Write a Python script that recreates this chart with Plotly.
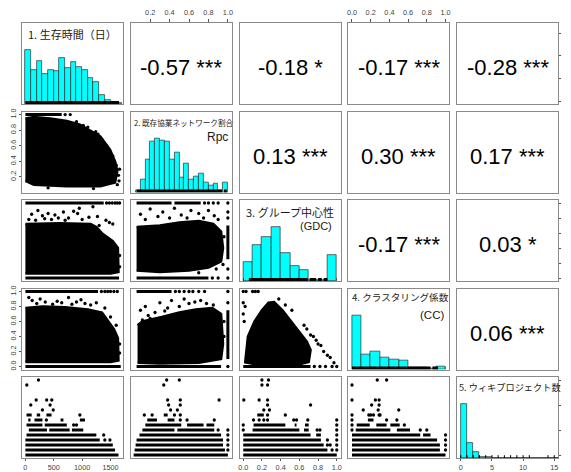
import plotly.graph_objects as go

# ------------------------------------------------------------------ data
titles_main = ["1. 生存時間（日）", "2. 既存協業ネットワーク割合", "3. グループ中心性",
               "4. クラスタリング係数", "5. ウィキプロジェクト数"]
titles_sub = ["", "Rpc", "(GDC)", "(CC)", ""]

axis_ranges = [[-60, 1720], [0.0, 1.04], [-0.04, 1.04], [-0.04, 1.04], [-0.6, 15.6]]

tick_surv = [0, 500, 1000, 1500]
tick_rpc = [0.2, 0.4, 0.6, 0.8, 1.0]
tick_unit = [0.0, 0.2, 0.4, 0.6, 0.8, 1.0]
tick_wiki = [0, 5, 10, 15]

# histograms: (first edge, bin width, relative heights)
hist_surv = (0, 100, [1.0, 0.63, 0.80, 0.56, 0.63, 0.61, 0.85, 0.67, 0.78, 0.69, 0.63, 0.48, 0.41, 0.17, 0.08, 0.03, 0.01])
hist_rpc = (0.05, 0.05, [0.04, 0.24, 0.61, 0.94, 1.0, 0.96, 0.95, 0.61, 0.74, 0.27, 0.53, 0.24, 0.29, 0.35, 0.19, 0.13, 0.16, 0.04, 0.19])
hist_gdc = (0.0, 0.1, [0.36, 0.67, 0.82, 1.0, 0.52, 0.28, 0.21, 0.01, 0.01, 0.48])
hist_cc = (0.0, 0.1, [1.0, 0.27, 0.33, 0.22, 0.18, 0.16, 0.04, 0.045, 0.015, 0.06])
hist_wiki = (0, 1, [1.0, 0.275, 0.11, 0.025, 0.01, 0.006, 0.004, 0.003, 0.002, 0.001, 0.002, 0.001, 0, 0, 0.001, 0.001])

rug_surv = [(0, 1650)]
rug_rpc = [(0.06, 0.94), (0.96, 0.99)]
rug_gdc = [(0.0, 0.005), (0.06, 0.69), (0.71, 0.78), (0.80, 0.84), (0.86, 0.90), (0.995, 1.0)]
rug_cc = [(0.0, 0.84), (0.86, 0.92), (0.995, 1.0)]
rug_wiki = [0, 1, 2, 3, 4, 5, 6, 7, 8, 9, 10, 11, 14, 15]

corr_pairs = [(0, 1), (0, 2), (0, 3), (0, 4), (1, 2), (1, 3), (1, 4), (2, 3), (2, 4), (3, 4)]
corr_r = [-0.57, -0.18, -0.17, -0.28, 0.13, 0.30, 0.17, -0.17, 0.03, 0.06]
corr_stars = ["***", "*", "***", "***", "***", "***", "***", "***", "*", "***"]

# ---- lower panels: dense clouds (outline), runs of dots (y, x0, x1), single points (x, y)
cloud21_x = [0, 150, 440, 730, 960, 1140, 1320, 1490, 1580, 1620, 1580, 1320, 730, 150, 0]
cloud21_y = [0.95, 0.97, 0.95, 0.92, 0.87, 0.80, 0.72, 0.55, 0.40, 0.28, 0.13, 0.08, 0.08, 0.10, 0.15]
runs21 = [(1.0, 0, 640)]
pts21 = [(700, 1.0), (790, 1.0), (1280, 0.75), (1350, 0.68), (1430, 0.60), (1540, 0.47), (1600, 0.35),
         (1640, 0.22), (1650, 0.15), (1240, 0.78), (1100, 0.84), (1020, 0.86), (1380, 0.62), (1500, 0.52),
         (900, 0.91), (1200, 0.05), (400, 0.06), (1620, 0.10), (1660, 0.30)]

cloud31_x = [0, 600, 1150, 1250, 1360, 1540, 1630, 1640, 1500, 0]
cloud31_y = [0.72, 0.73, 0.72, 0.68, 0.59, 0.49, 0.40, 0.08, 0.06, 0.06]
runs31 = [(1.0, 0, 1380), (0.0, 0, 1650)]
pts31 = [(1430, 1.0), (1480, 1.0), (1530, 1.0), (1580, 1.0), (1620, 1.0), (1660, 1.0),
         (110, 0.85), (220, 0.90), (300, 0.83), (400, 0.86), (520, 0.84), (580, 0.80), (670, 0.88),
         (760, 0.80), (850, 0.89), (920, 0.86), (950, 0.93), (1120, 0.81), (1190, 0.95), (1270, 0.82),
         (1420, 0.77), (1480, 0.74), (1540, 0.72), (60, 0.78), (180, 0.77), (340, 0.79), (460, 0.78),
         (700, 0.77), (1000, 0.78), (1300, 0.70), (1660, 0.30), (1660, 0.15)]

cloud41_x = [0, 300, 700, 1100, 1350, 1450, 1560, 1630, 1640, 1500, 0]
cloud41_y = [0.78, 0.80, 0.79, 0.76, 0.72, 0.62, 0.50, 0.38, 0.08, 0.06, 0.06]
runs41 = [(1.0, 0, 1280), (0.0, 0, 1680)]
pts41 = [(1340, 1.0), (1400, 1.0), (1450, 1.0), (1500, 1.0), (1560, 1.0), (1620, 1.0),
         (60, 0.92), (120, 0.88), (200, 0.84), (260, 0.90), (350, 0.86), (480, 0.83), (560, 0.87),
         (640, 0.85), (760, 0.92), (820, 0.83), (900, 0.86), (980, 0.89), (1050, 0.84), (1150, 0.82), (1250, 0.85),
         (1400, 0.78), (1500, 0.66), (1600, 0.55), (1660, 0.30), (1660, 0.18)]

cloud32_x = [0.06, 0.30, 0.50, 0.70, 0.85, 0.93, 0.95, 0.93, 0.80, 0.60, 0.30, 0.06]
cloud32_y = [0.68, 0.70, 0.74, 0.76, 0.72, 0.62, 0.40, 0.22, 0.14, 0.10, 0.08, 0.10]
runs32 = [(1.0, 0.06, 0.42), (1.0, 0.45, 0.72), (0.0, 0.06, 0.80)]
vruns32 = [(1.0, 0.25, 0.70)]
pts32 = [(0.76, 1.0), (0.80, 1.0), (0.85, 1.0), (0.90, 1.0), (0.84, 0.0), (0.90, 0.0),
         (1.0, 1.0), (1.0, 0.88), (1.0, 0.80), (1.0, 0.0), (1.0, 0.12),
         (0.10, 0.85), (0.15, 0.78), (0.20, 0.92), (0.28, 0.82), (0.33, 0.88), (0.40, 0.80), (0.45, 0.93),
         (0.52, 0.84), (0.58, 0.80), (0.62, 0.90), (0.70, 0.86), (0.75, 0.80), (0.80, 0.90), (0.86, 0.83), (0.90, 0.78),
         (0.96, 0.55), (0.95, 0.18), (0.88, 0.12), (0.70, 0.07)]

cloud42_x = [0.07, 0.12, 0.32, 0.50, 0.67, 0.84, 0.93, 0.95, 0.93, 0.70, 0.30, 0.07]
cloud42_y = [0.55, 0.60, 0.66, 0.72, 0.76, 0.78, 0.70, 0.30, 0.10, 0.05, 0.04, 0.05]
runs42 = [(1.0, 0.06, 0.42), (0.0, 0.06, 0.93)]
vruns42 = [(1.0, 0.10, 0.75)]
pts42 = [(0.46, 1.0), (0.50, 1.0), (0.55, 1.0), (0.60, 1.0), (0.64, 1.0), (0.70, 1.0), (0.76, 1.0), (1.0, 1.0),
         (1.0, 0.0), (1.0, 0.85),
         (0.10, 0.75), (0.15, 0.80), (0.18, 0.68), (0.25, 0.72), (0.30, 0.85), (0.38, 0.78), (0.42, 0.88),
         (0.50, 0.80), (0.55, 0.90), (0.60, 0.84), (0.66, 0.86), (0.72, 0.88), (0.78, 0.84), (0.85, 0.82),
         (0.12, 0.62), (0.20, 0.64), (0.35, 0.74), (0.96, 0.60), (0.96, 0.40)]

cloud43_x = [0.02, 0.05, 0.12, 0.20, 0.27, 0.33, 0.42, 0.50, 0.60, 0.68, 0.72, 0.70, 0.60, 0.10]
cloud43_y = [0.04, 0.40, 0.60, 0.75, 0.85, 0.86, 0.75, 0.62, 0.45, 0.33, 0.22, 0.06, 0.03, 0.02]
runs43 = [(0.0, 0.0, 0.72)]
pts43 = [(0.0, 1.0), (0.03, 1.0), (0.10, 1.0), (0.13, 1.0), (0.16, 1.0),
         (0.0, 0.85), (0.02, 0.80), (0.0, 0.70), (0.01, 0.60),
         (0.75, 0.40), (0.78, 0.35), (0.80, 0.30), (0.83, 0.28), (0.86, 0.20), (0.90, 0.15), (0.93, 0.12),
         (0.97, 0.05), (0.65, 0.55), (0.68, 0.50), (0.72, 0.42),
         (0.76, 0.0), (0.82, 0.0), (0.88, 0.0), (0.95, 0.0), (1.0, 0.0),
         (0.38, 0.90), (0.45, 0.82), (0.52, 0.75)]

# row 5: wiki project count (integer levels): runs (level, x0, x1) and dots (level, x)
runs51 = [(0, 0, 1640), (1, 0, 1580), (2, 0, 1540), (3, 0, 1310), (4, 20, 1250), (5, 60, 380), (5, 420, 780),
          (5, 820, 1020), (6, 20, 300), (6, 340, 730), (7, 50, 90), (7, 160, 300), (7, 620, 670), (7, 960, 1050),
          (8, 20, 110), (8, 200, 260), (8, 370, 460)]
dots51 = [(3, 1400), (3, 1490), (4, 1380), (6, 850), (6, 900), (7, 370), (8, 960), (9, 300), (9, 490),
          (10, 95), (10, 435), (11, 190), (11, 375), (11, 465), (14, 25), (15, 230)]

runs52 = [(0, 0.03, 1.0), (1, 0.04, 0.97), (2, 0.05, 0.95), (3, 0.06, 0.95), (4, 0.09, 0.93), (5, 0.12, 0.45),
          (5, 0.48, 0.86), (6, 0.15, 0.52), (6, 0.58, 0.75), (6, 0.78, 0.86), (7, 0.17, 0.27), (7, 0.38, 0.45),
          (8, 0.34, 0.38)]
dots52 = [(1, 1.0), (2, 1.0), (3, 1.0), (4, 1.0), (5, 0.9), (5, 1.0), (7, 0.51), (7, 0.58), (7, 0.86),
          (8, 0.14), (8, 0.22), (8, 0.45), (8, 0.51), (9, 0.41), (9, 0.48), (10, 0.39), (10, 0.51),
          (11, 0.38), (11, 0.51), (11, 0.91), (14, 0.34), (15, 0.37), (15, 0.50)]

runs53 = [(0, 0.0, 1.0), (1, 0.0, 0.90), (2, 0.0, 0.86), (3, 0.0, 0.83), (4, 0.0, 0.72), (4, 0.78, 0.83),
          (5, 0.10, 0.60), (5, 0.65, 0.70), (6, 0.11, 0.45), (6, 0.55, 0.57), (6, 0.66, 0.70), (8, 0.15, 0.22)]
dots53 = [(1, 0.95), (1, 1.0), (2, 0.90), (2, 0.93), (2, 1.0), (3, 0.90), (3, 1.0), (4, 1.0),
          (5, 0.0), (5, 0.79), (5, 0.82), (5, 1.0), (6, 0.0), (6, 1.0),
          (7, 0.11), (7, 0.17), (7, 0.22), (7, 0.26), (7, 0.54), (7, 0.57), (7, 0.69), (7, 1.0),
          (8, 0.26), (8, 0.45), (9, 0.22), (9, 0.28), (10, 0.26), (10, 0.72),
          (11, 0.006), (11, 0.17), (11, 0.26), (14, 0.20), (14, 0.26), (15, 0.20), (15, 0.27)]

runs54 = [(0, 0.0, 1.0), (1, 0.0, 0.94), (2, 0.0, 0.94), (3, 0.0, 0.91), (4, 0.0, 0.73), (4, 0.76, 0.84),
          (5, 0.04, 0.41), (5, 0.48, 0.62), (6, 0.05, 0.19), (6, 0.26, 0.37), (6, 0.41, 0.51), (7, 0.17, 0.23)]
dots54 = [(1, 1.0), (2, 1.0), (3, 1.0), (4, 1.0), (5, 0.0), (5, 0.73), (5, 0.80), (6, 0.0), (6, 0.56),
          (7, 0.0), (7, 0.37), (7, 0.48), (8, 0.0), (8, 0.18), (8, 0.20), (8, 0.23), (8, 0.29), (8, 0.30),
          (9, 0.12), (9, 0.28), (9, 0.50), (10, 0.21), (10, 0.29), (11, 0.0), (11, 0.25), (11, 0.29),
          (14, 0.0), (15, 0.27), (15, 0.37)]

# ------------------------------------------------------------------ layout geometry (pixels)
PAGE_OFF = 8                      # default page body margin
W, H = 571 - PAGE_OFF, 472 - PAGE_OFF
ML, MT = 22 - PAGE_OFF, 23 - PAGE_OFF
PW, PH = 101, 81
SX, SY = 108.75, 88.5
PLOT_W = 4 * SX + PW
PLOT_H = 4 * SY + PH
BOX = "#8a8a8a"
TICKC = "#555555"
FONT_LAT = "Liberation Sans, Arial, Helvetica, sans-serif"
FONT_JP = "Noto Sans CJK JP, Noto Sans, sans-serif"
DOT = 3.3
BAND = 3.0

fig = go.Figure()


def refs(r, c):
    n = r * 5 + c + 1
    return ("x" if n == 1 else f"x{n}"), ("y" if n == 1 else f"y{n}"), n


def add(tr, r, c):
    xr, yr, _ = refs(r, c)
    tr.update(xaxis=xr, yaxis=yr, hoverinfo="skip", showlegend=False)
    fig.add_trace(tr)


def hlines(runs):
    xs, ys = [], []
    for y, a, b in runs:
        xs += [a, b, None]
        ys += [y, y, None]
    return xs, ys


def vlines(runs):
    xs, ys = [], []
    for x, a, b in runs:
        xs += [x, x, None]
        ys += [a, b, None]
    return xs, ys


def cloud_panel(r, c, cx, cy, runs, pts, vruns=None):
    add(go.Scatter(x=cx, y=cy, mode="lines", fill="toself", fillcolor="black",
                   line=dict(color="black", width=2.5)), r, c)
    hx, hy = hlines(runs)
    if vruns:
        vx, vy = vlines(vruns)
        hx += vx
        hy += vy
    add(go.Scatter(x=hx, y=hy, mode="lines", line=dict(color="black", width=BAND)), r, c)
    add(go.Scatter(x=[p[0] for p in pts], y=[p[1] for p in pts], mode="markers",
                   marker=dict(color="black", size=DOT)), r, c)


def level_panel(r, c, runs, dots):
    hx, hy = hlines(runs)
    add(go.Scatter(x=hx, y=hy, mode="lines", line=dict(color="black", width=BAND)), r, c)
    add(go.Scatter(x=[d[1] for d in dots], y=[d[0] for d in dots], mode="markers",
                   marker=dict(color="black", size=DOT)), r, c)


cloud_panel(1, 0, cloud21_x, cloud21_y, runs21, pts21)
cloud_panel(2, 0, cloud31_x, cloud31_y, runs31, pts31)
cloud_panel(3, 0, cloud41_x, cloud41_y, runs41, pts41)
cloud_panel(2, 1, cloud32_x, cloud32_y, runs32, pts32, vruns32)
cloud_panel(3, 1, cloud42_x, cloud42_y, runs42, pts42, vruns42)
cloud_panel(3, 2, cloud43_x, cloud43_y, runs43, pts43)
level_panel(4, 0, runs51, dots51)
level_panel(4, 1, runs52, dots52)
level_panel(4, 2, runs53, dots53)
level_panel(4, 3, runs54, dots54)

# upper panels hold only text: give each an empty trace so its axes exist
for (r, c) in corr_pairs:
    add(go.Scatter(x=[None], y=[None], mode="markers"), r, c)

# diagonal histograms + rugs
hists = [hist_surv, hist_rpc, hist_gdc, hist_cc, hist_wiki]
rugs = [rug_surv, rug_rpc, rug_gdc, rug_cc]
for i, (start, bw, rel) in enumerate(hists):
    lo, hi = axis_ranges[i]
    span = hi - lo
    centers = [start + bw * (k + 0.5) for k in range(len(rel))]
    heights = [v / 1.5 * span for v in rel]
    add(go.Bar(x=centers, y=heights, base=lo, width=bw,
               marker=dict(color="#00FFFF", line=dict(color="#2e2e2e", width=0.7))), i, i)
    if i < 4:
        rx, ry = hlines([(lo + 0.018 * span, a, b) for a, b in rugs[i]])
        add(go.Scatter(x=rx, y=ry, mode="lines", line=dict(color="black", width=3)), i, i)
    else:
        rx, ry = vlines([(v, lo, lo + 0.035 * span) for v in rug_wiki])
        add(go.Scatter(x=rx, y=ry, mode="lines", line=dict(color="black", width=1)), i, i)

# ------------------------------------------------------------------ axes
top_ticks = {1: tick_rpc, 3: tick_unit}
bottom_ticks = {0: tick_surv, 2: tick_unit, 4: tick_wiki}
left_ticks = {1: tick_rpc, 3: tick_unit}
right_ticks = {0: tick_surv, 2: tick_unit, 4: tick_wiki}


def fmt(v):
    return f"{v:.1f}" if isinstance(v, float) else str(v)


layout = dict(width=W, height=H, plot_bgcolor="white", paper_bgcolor="white", showlegend=False,
              margin=dict(l=ML, r=W - ML - PLOT_W, t=MT, b=H - MT - PLOT_H, pad=0, autoexpand=False),
              bargap=0, annotations=[])
tickstyle = dict(ticks="outside", ticklen=2.5, tickwidth=1, tickcolor=TICKC, showticklabels=True,
                 tickfont=dict(family=FONT_LAT, size=7.3, color="#444444"))

for r in range(5):
    for c in range(5):
        xr, yr, n = refs(r, c)
        xd = [c * SX / PLOT_W, (c * SX + PW) / PLOT_W]
        yd = [1 - (r * SY + PH) / PLOT_H, 1 - r * SY / PLOT_H]
        base = dict(showgrid=False, zeroline=False, showline=True, mirror=True, linecolor=BOX,
                    linewidth=1.3, ticks="", showticklabels=False, fixedrange=True, automargin=False)
        xa = dict(base, domain=xd, range=axis_ranges[c], anchor=yr)
        ya = dict(base, domain=yd, range=axis_ranges[r], anchor=xr)
        if r == 0 and c in top_ticks:
            tv = top_ticks[c]
            xa.update(tickstyle, side="top", tickvals=tv, ticktext=[fmt(v) for v in tv], ticklabelstandoff=1)
        if r == 4 and c in bottom_ticks:
            tv = bottom_ticks[c]
            xa.update(tickstyle, side="bottom", tickvals=tv, ticktext=[fmt(v) for v in tv],
                      ticklabelstandoff=0, ticklen=2)
        if c == 0 and r in left_ticks:
            tv = left_ticks[r]
            ya.update(tickstyle, side="left", tickvals=tv, ticktext=[fmt(v) for v in tv], tickangle=-90,
                      ticklabelstandoff=0, ticklen=2)
        if c == 4 and r in right_ticks:
            tv = right_ticks[r]
            ya.update(tickstyle, side="right", tickvals=tv, ticktext=[fmt(v) for v in tv], tickangle=-90,
                      ticklabelstandoff=0, ticklen=2)
        layout["xaxis" if n == 1 else f"xaxis{n}"] = xa
        layout["yaxis" if n == 1 else f"yaxis{n}"] = ya

# ------------------------------------------------------------------ text
anns = layout["annotations"]
for (r, c), val, st in zip(corr_pairs, corr_r, corr_stars):
    xr, yr, _ = refs(r, c)
    anns.append(dict(x=0.5, y=0.45, xref=f"{xr} domain", yref=f"{yr} domain", showarrow=False,
                     xanchor="center", yanchor="middle", text=f"{val:.2f} {st}",
                     font=dict(family=FONT_LAT, size=22, color="black")))

title_pos = [  # x, y, xanchor, size
    (0.5, 0.87, "center", 11),
    (0.01, 0.86, "left", 7.6),
    (0.5, 0.85, "center", 11),
    (0.515, 0.89, "center", 9.6),
    (0.0, 0.88, "left", 9.2),
]
sub_pos = [None, (0.98, 0.69, 12), (0.94, 0.68, 11), (0.97, 0.67, 11.5), None]
for i in range(5):
    xr, yr, _ = refs(i, i)
    x, y, xa_, sz = title_pos[i]
    anns.append(dict(x=x, y=y, xref=f"{xr} domain", yref=f"{yr} domain", showarrow=False,
                     xanchor=xa_, yanchor="middle", text=titles_main[i],
                     font=dict(family=FONT_JP, size=sz, color="#1a1a1a")))
    if titles_sub[i]:
        sx, sy, ssz = sub_pos[i]
        anns.append(dict(x=sx, y=sy, xref=f"{xr} domain", yref=f"{yr} domain", showarrow=False,
                         xanchor="right", yanchor="middle", text=titles_sub[i],
                         font=dict(family=FONT_LAT, size=ssz, color="#1a1a1a")))

fig.update_layout(**layout)
fig.write_html("out.html")
